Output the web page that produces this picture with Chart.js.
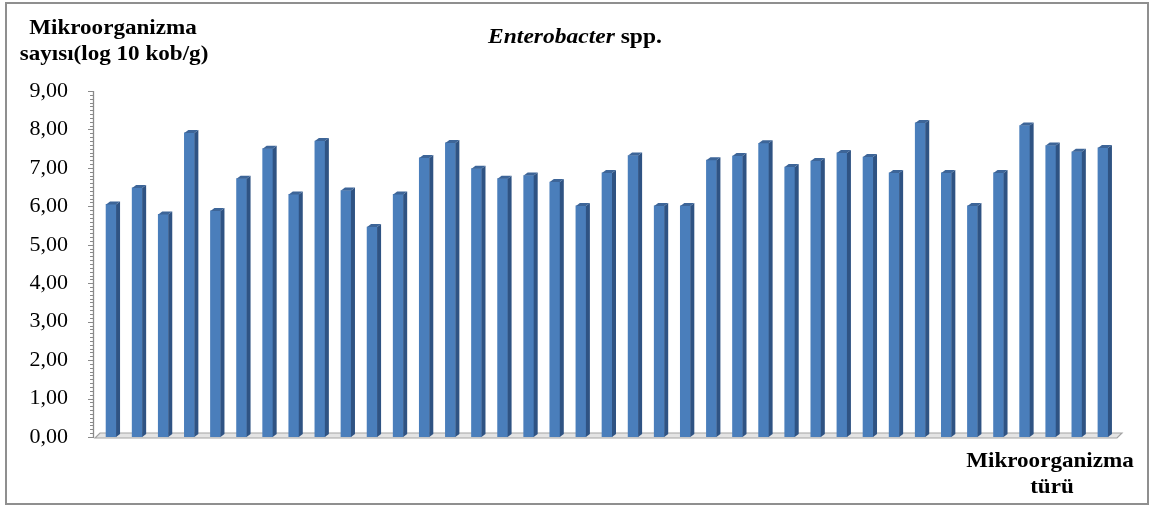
<!DOCTYPE html>
<html>
<head>
<meta charset="utf-8">
<script src="https://cdn.jsdelivr.net/npm/chart.js@4.4.1/dist/chart.umd.min.js"></script>
<style>
  html, body { margin: 0; padding: 0; background: #ffffff; }
  #wrap { width: 1156px; height: 506px; position: relative; }
</style>
</head>
<body>
<div id="wrap"><canvas id="c" width="1156" height="506"></canvas></div>
<script>
// Enterobacter spp. counts per sample (log10 cfu/g)
const categories = ['1','2','3','4','5','6','7','8','9','10','11','12','13','14','15','16','17','18','19','20',
                    '21','22','23','24','25','26','27','28','29','30','31','32','33','34','35','36','37','38','39'];
const counts = [6.05, 6.48, 5.79, 7.91, 5.88, 6.72, 7.50, 6.31, 7.70, 6.41,
                5.46, 6.31, 7.26, 7.65, 6.98, 6.72, 6.80, 6.63, 6.01, 6.87,
                7.32, 6.01, 6.01, 7.20, 7.31, 7.64, 7.02, 7.18, 7.39, 7.28,
                6.87, 8.17, 6.87, 6.01, 6.87, 8.10, 7.58, 7.42, 7.52];
const yTicks = [0, 1, 2, 3, 4, 5, 6, 7, 8, 9];

const SERIF = '"Liberation Serif", "Times New Roman", serif';
const DEPTH_X = 4, DEPTH_Y = 3;

// Frame, floor, value axis, 3D faces and titles
const chart3d = {
  id: 'chart3d',
  beforeDraw(chart) {
    const ctx = chart.ctx;
    ctx.save();
    ctx.fillStyle = '#ffffff';
    ctx.fillRect(0, 0, chart.width, chart.height);
    ctx.strokeStyle = '#8f8f8f';
    ctx.lineWidth = 2;
    ctx.strokeRect(6, 3, 1142, 501);
    ctx.restore();
  },
  beforeDatasetsDraw(chart) {
    const ctx = chart.ctx;
    const a = chart.chartArea;
    const y = chart.scales.y;
    const base = y.getPixelForValue(0);
    const axX = a.left - 5;
    ctx.save();
    // floor
    ctx.beginPath();
    ctx.moveTo(axX + 2, base + 1);
    ctx.lineTo(a.right + 1, base + 1);
    ctx.lineTo(a.right + 6, base - 4);
    ctx.lineTo(axX + 7, base - 4);
    ctx.closePath();
    ctx.fillStyle = '#e4e4e4';
    ctx.fill();
    ctx.strokeStyle = '#a3a3a3';
    ctx.lineWidth = 1.2;
    ctx.stroke();
    // value axis line with minor/major ticks
    ctx.strokeStyle = '#8a8a8a';
    ctx.lineWidth = 1.3;
    ctx.beginPath();
    ctx.moveTo(axX + 0.5, y.getPixelForValue(9));
    ctx.lineTo(axX + 0.5, base + 1);
    ctx.stroke();
    ctx.lineWidth = 1;
    for (let k = 0; k <= 90; k++) {
      const py = Math.round(y.getPixelForValue(k / 10)) + 0.5;
      const len = (k % 10 === 0) ? 5 : 3;
      ctx.beginPath();
      ctx.moveTo(axX - len, py);
      ctx.lineTo(axX, py);
      ctx.stroke();
    }
    ctx.restore();
  },
  afterDatasetsDraw(chart) {
    const ctx = chart.ctx;
    const meta = chart.getDatasetMeta(0);
    ctx.save();
    meta.data.forEach((bar) => {
      const p = bar.getProps(['x', 'y', 'base', 'width'], true);
      const xl = p.x - p.width / 2, xr = p.x + p.width / 2;
      // right side face
      ctx.beginPath();
      ctx.moveTo(xr, p.y);
      ctx.lineTo(xr + DEPTH_X, p.y - DEPTH_Y);
      ctx.lineTo(xr + DEPTH_X, p.base - DEPTH_Y);
      ctx.lineTo(xr, p.base);
      ctx.closePath();
      ctx.fillStyle = '#2f5383';
      ctx.fill();
      // top cap
      ctx.beginPath();
      ctx.moveTo(xl, p.y);
      ctx.lineTo(xl + DEPTH_X, p.y - DEPTH_Y);
      ctx.lineTo(xr + DEPTH_X, p.y - DEPTH_Y);
      ctx.lineTo(xr, p.y);
      ctx.closePath();
      ctx.fillStyle = '#3d6598';
      ctx.fill();
    });
    ctx.restore();
  },
  afterDraw(chart) {
    const ctx = chart.ctx;
    ctx.save();
    ctx.fillStyle = '#000000';
    ctx.textBaseline = 'alphabetic';
    const stretched = (text, cx, by, font, sx) => {
      ctx.save();
      ctx.font = font;
      ctx.textAlign = 'center';
      ctx.translate(cx, by);
      ctx.scale(sx, 1);
      ctx.fillText(text, 0, 0);
      ctx.restore();
    };
    // chart title: italic genus + upright "spp."
    const fi = 'italic bold 21px ' + SERIF;
    const fb = 'bold 21px ' + SERIF;
    ctx.font = fi;
    const w1 = ctx.measureText('Enterobacter').width;
    ctx.font = fb;
    const w2 = ctx.measureText(' spp.').width;
    const sx = 1.12;
    const total = (w1 + w2) * sx;
    let x0 = 575 - total / 2;
    ctx.save();
    ctx.translate(x0, 43);
    ctx.scale(sx, 1);
    ctx.textAlign = 'left';
    ctx.font = fi;
    ctx.fillText('Enterobacter', 0, 0);
    ctx.font = fb;
    ctx.fillText(' spp.', w1, 0);
    ctx.restore();
    // value axis title
    stretched('Mikroorganizma', 113, 34, 'bold 21px ' + SERIF, 1.1);
    stretched('sayısı(log 10 kob/g)', 114, 60, 'bold 21px ' + SERIF, 1.1);
    // category axis title
    stretched('Mikroorganizma', 1050, 467, 'bold 21px ' + SERIF, 1.1);
    stretched('türü', 1052, 493, 'bold 21px ' + SERIF, 1.1);
    ctx.restore();
  }
};

new Chart(document.getElementById('c'), {
  type: 'bar',
  data: {
    labels: categories,
    datasets: [{
      data: counts,
      backgroundColor: '#4a7ebb',
      borderWidth: 0,
      barThickness: 10
    }]
  },
  options: {
    responsive: false,
    animation: false,
    devicePixelRatio: 1,
    layout: { padding: { left: 0, top: 91, right: 40, bottom: 69 } },
    plugins: {
      legend: { display: false },
      title: { display: false },
      tooltip: { enabled: false }
    },
    scales: {
      x: {
        display: false,
        offset: true,
        grid: { display: false }
      },
      y: {
        min: 0,
        max: 9,
        afterFit(scale) { scale.width = 98; },
        afterBuildTicks(scale) { scale.ticks = yTicks.map(v => ({ value: v })); },
        border: { display: false },
        grid: { display: false },
        ticks: {
          padding: 22,
          color: '#000000',
          font: { family: SERIF, size: 22 },
          callback: (v) => Number(v).toFixed(2).replace('.', ',')
        }
      }
    }
  },
  plugins: [chart3d]
});
</script>
</body>
</html>
